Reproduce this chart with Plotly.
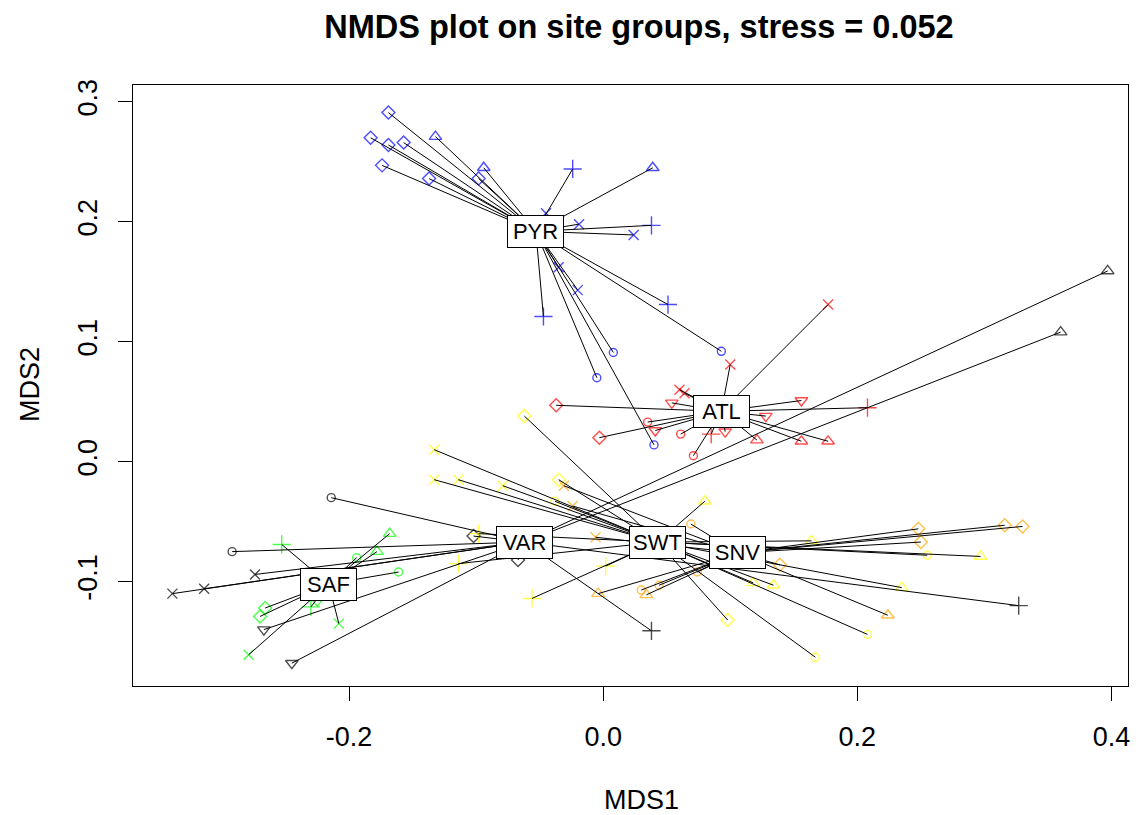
import plotly.graph_objects as go

# ---- data ----
group_names = ["PYR", "ATL", "SAF", "VAR", "SWT", "SNV"]
group_colors = ["#0000FF", "#FF0000", "#00FF00", "#000000", "#FFFF00", "#FFA500"]
cent_x = [-0.053, 0.093, -0.216, -0.062, 0.043, 0.106]
cent_y = [0.192, 0.042, -0.102, -0.067, -0.067, -0.076]

# pch codes: 1 circle, 2 triangle up, 3 plus, 4 cross, 5 diamond, 6 triangle down
pyr_x = [-0.169, -0.132, -0.183, -0.169, -0.157, -0.174, -0.137, -0.094, -0.098, -0.024, 0.039, -0.019,
         0.038, 0.024, -0.035, -0.020, 0.051, -0.047, 0.008, 0.093, -0.005, 0.040, -0.045]
pyr_y = [0.291, 0.271, 0.270, 0.264, 0.266, 0.247, 0.236, 0.245, 0.236, 0.244, 0.245, 0.198,
         0.197, 0.189, 0.162, 0.143, 0.131, 0.121, 0.091, 0.092, 0.070, 0.014, 0.207]
pyr_pch = [5, 2, 5, 5, 5, 5, 5, 2, 5, 3, 2, 4, 3, 4, 4, 4, 3, 3, 1, 1, 1, 1, 4]

atl_x = [0.177, 0.100, 0.060, 0.064, 0.054, -0.037, 0.156, 0.128, -0.003, 0.035, 0.041, 0.061,
         0.085, 0.096, 0.071, 0.121, 0.156, 0.177, 0.208]
atl_y = [0.131, 0.081, 0.060, 0.057, 0.049, 0.047, 0.051, 0.038, 0.020, 0.033, 0.026, 0.023,
         0.023, 0.025, 0.005, 0.018, 0.017, 0.017, 0.045]
atl_pch = [4, 4, 4, 4, 6, 5, 6, 6, 5, 1, 6, 1, 3, 6, 1, 2, 2, 2, 3]

saf_x = [-0.253, -0.168, -0.178, -0.194, -0.161, -0.266, -0.270, -0.230, -0.208, -0.279, -0.225]
saf_y = [-0.069, -0.060, -0.075, -0.080, -0.092, -0.122, -0.129, -0.121, -0.135, -0.161, -0.116]
saf_pch = [3, 2, 2, 1, 1, 5, 5, 3, 4, 4, 6]

var_x = [-0.214, -0.292, -0.274, -0.314, -0.339, -0.267, -0.245, -0.102, -0.067, 0.038, 0.327, 0.397, 0.360]
var_y = [-0.030, -0.075, -0.094, -0.106, -0.110, -0.140, -0.168, -0.062, -0.082, -0.141, -0.120, 0.159, 0.108]
var_pch = [1, 1, 4, 4, 4, 6, 6, 5, 5, 3, 3, 2, 2]

swt_x = [-0.133, -0.133, -0.114, -0.079, -0.062, -0.035, 0.098, -0.038, 0.167, 0.255, 0.208,
         -0.098, -0.114, 0.002, -0.056, 0.080, 0.118, 0.134, 0.164, 0.297, 0.235]
swt_y = [0.010, -0.015, -0.015, -0.020, 0.038, -0.015, -0.132, -0.033, -0.163, -0.078, -0.144,
         -0.060, -0.085, -0.087, -0.114, -0.033, -0.101, -0.103, -0.066, -0.079, -0.105]
swt_pch = [4, 4, 4, 4, 5, 5, 5, 1, 1, 1, 1, 3, 3, 3, 3, 2, 2, 2, 2, 2, 2]

snv_x = [-0.031, -0.024, -0.006, -0.004, 0.034, 0.224, 0.069, 0.074, 0.044, 0.030, 0.139,
         0.248, 0.250, 0.316, 0.330]
snv_y = [-0.020, -0.037, -0.063, -0.110, -0.111, -0.128, -0.052, -0.092, -0.103, -0.107, -0.086,
         -0.056, -0.067, -0.053, -0.054]
snv_pch = [4, 4, 4, 2, 2, 2, 1, 1, 1, 1, 5, 5, 5, 5, 5]

x_tick_vals = [-0.2, 0.0, 0.2, 0.4]
x_tick_text = ["-0.2", "0.0", "0.2", "0.4"]
y_tick_vals = [-0.1, 0.0, 0.1, 0.2, 0.3]
y_tick_text = ["-0.1", "0.0", "0.1", "0.2", "0.3"]

# ---- styling ----
pch_symbol = {1: "circle-open", 2: "triangle-up-open", 3: "cross-thin-open",
              4: "x-thin-open", 5: "diamond-open", 6: "triangle-down-open"}
pch_size = {1: 8, 2: 11, 3: 13, 4: 10, 5: 10, 6: 11}

groups = [
    (pyr_x, pyr_y, pyr_pch),
    (atl_x, atl_y, atl_pch),
    (saf_x, saf_y, saf_pch),
    (var_x, var_y, var_pch),
    (swt_x, swt_y, swt_pch),
    (snv_x, snv_y, snv_pch),
]

fig = go.Figure()

# points
for (gx, gy, gp), name, col in zip(groups, group_names, group_colors):
    fig.add_trace(go.Scatter(
        x=gx, y=gy, mode="markers", name=name, showlegend=False,
        marker=dict(symbol=[pch_symbol[p] for p in gp], size=[pch_size[p] for p in gp],
                    color=col, line=dict(width=1.4, color=col)),
        hoverinfo="skip"))

# spider lines
for (gx, gy, gp), cx, cy in zip(groups, cent_x, cent_y):
    lx, ly = [], []
    for px, py in zip(gx, gy):
        lx += [cx, px, None]
        ly += [cy, py, None]
    fig.add_trace(go.Scatter(x=lx, y=ly, mode="lines", showlegend=False,
                             line=dict(color="black", width=1), hoverinfo="skip"))

# centroid labels
for name, cx, cy in zip(group_names, cent_x, cent_y):
    fig.add_annotation(x=cx, y=cy, xref="x", yref="y", text=name, showarrow=False,
                       font=dict(family="Liberation Sans, Arial", size=22, color="black"),
                       bgcolor="white", bordercolor="black", borderwidth=1, borderpad=3,
                       width=49, height=25)

L, R, T, B = 133, 1128, 85, 686
W, H = 1144, 815

font_main = "Liberation Sans, Arial, sans-serif"

fig.update_xaxes(range=[-0.370, 0.413], showgrid=False, zeroline=False,
                 showline=True, mirror=True, linecolor="black", linewidth=1,
                 ticks="outside", ticklen=14, tickcolor="black", tickwidth=1,
                 tickvals=x_tick_vals, ticktext=x_tick_text, ticklabelstandoff=13,
                 tickfont=dict(family=font_main, size=27, color="black"))
fig.update_yaxes(range=[-0.187, 0.314], showgrid=False, zeroline=False,
                 showline=True, mirror=True, linecolor="black", linewidth=1,
                 ticks="outside", ticklen=14, tickcolor="black", tickwidth=1,
                 tickvals=y_tick_vals, ticktext=y_tick_text, tickangle=-90, ticklabelstandoff=10,
                 tickfont=dict(family=font_main, size=27, color="black"))

# axis titles
fig.add_annotation(text="MDS1", xref="paper", yref="paper",
                   x=(641 - L) / (R - L), y=(B - 800) / (B - T), showarrow=False,
                   xanchor="center", yanchor="middle",
                   font=dict(family=font_main, size=27, color="black"))
fig.add_annotation(text="MDS2", xref="paper", yref="paper",
                   x=(30 - L) / (R - L), y=(B - 385) / (B - T), showarrow=False, textangle=-90,
                   xanchor="center", yanchor="middle",
                   font=dict(family=font_main, size=27, color="black"))

fig.update_layout(
    width=W, height=H, autosize=False,
    margin=dict(l=L, r=W - R, t=T, b=H - B),
    paper_bgcolor="white", plot_bgcolor="white",
    title=dict(text="<b>NMDS plot on site groups, stress = 0.052</b>",
               x=639 / W, y=1 - 27 / H, xref="container", yref="container",
               xanchor="center", yanchor="middle",
               font=dict(family=font_main, size=32.5, color="black")),
    showlegend=False,
)

fig.write_html("out.html")
